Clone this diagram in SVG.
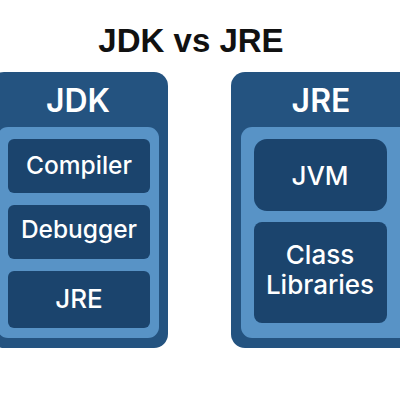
<svg xmlns="http://www.w3.org/2000/svg" width="400" height="400" viewBox="0 0 400 400">
<style>
.outer{fill:#245380}
.inner{fill:#5893c6}
.item{fill:#1b446d}
.t{font-family:Inter,"Liberation Sans",sans-serif;fill:#fff;text-anchor:middle;font-weight:500}
.h{font-size:32px;font-weight:600}
.s{font-size:24.5px}
.r{font-size:26px}
.title{font-family:"Liberation Sans",Arial,sans-serif;font-weight:bold;font-size:33px;fill:#111;text-anchor:middle}
</style>
<rect width="400" height="400" fill="#fff"/>
<text class="title" x="191" y="52">JDK vs JRE</text>
<g id="jdk">
<rect class="outer" x="-10" y="72" width="178" height="276" rx="14"/>
<rect class="inner" x="-3" y="127" width="162" height="211" rx="11"/>
<text class="t h" x="78" y="112">JDK</text>
</g>
<g id="compiler">
<rect class="item" x="8" y="139" width="142" height="54" rx="6"/>
<text class="t s" x="79" y="174">Compiler</text>
</g>
<g id="debugger">
<rect class="item" x="8" y="205" width="142" height="54" rx="6"/>
<text class="t s" x="79" y="238">Debugger</text>
</g>
<g id="jre-item">
<rect class="item" x="8" y="271" width="142" height="57" rx="6"/>
<text class="t r" x="79" y="308">JRE</text>
</g>
<g id="jre">
<rect class="outer" x="231" y="72" width="185" height="276" rx="14"/>
<rect class="inner" x="241" y="127" width="170" height="211" rx="11"/>
<text class="t h" x="321" y="112">JRE</text>
</g>
<g id="jvm">
<rect class="item" x="254" y="139" width="133" height="72" rx="13"/>
<text class="t r" x="320" y="185">JVM</text>
</g>
<g id="classlib">
<rect class="item" x="254" y="222" width="133" height="101" rx="8"/>
<text class="t r" x="320" y="264">Class</text>
<text class="t r" x="320" y="294">Libraries</text>
</g>
<g id="connectors"/>
</svg>
